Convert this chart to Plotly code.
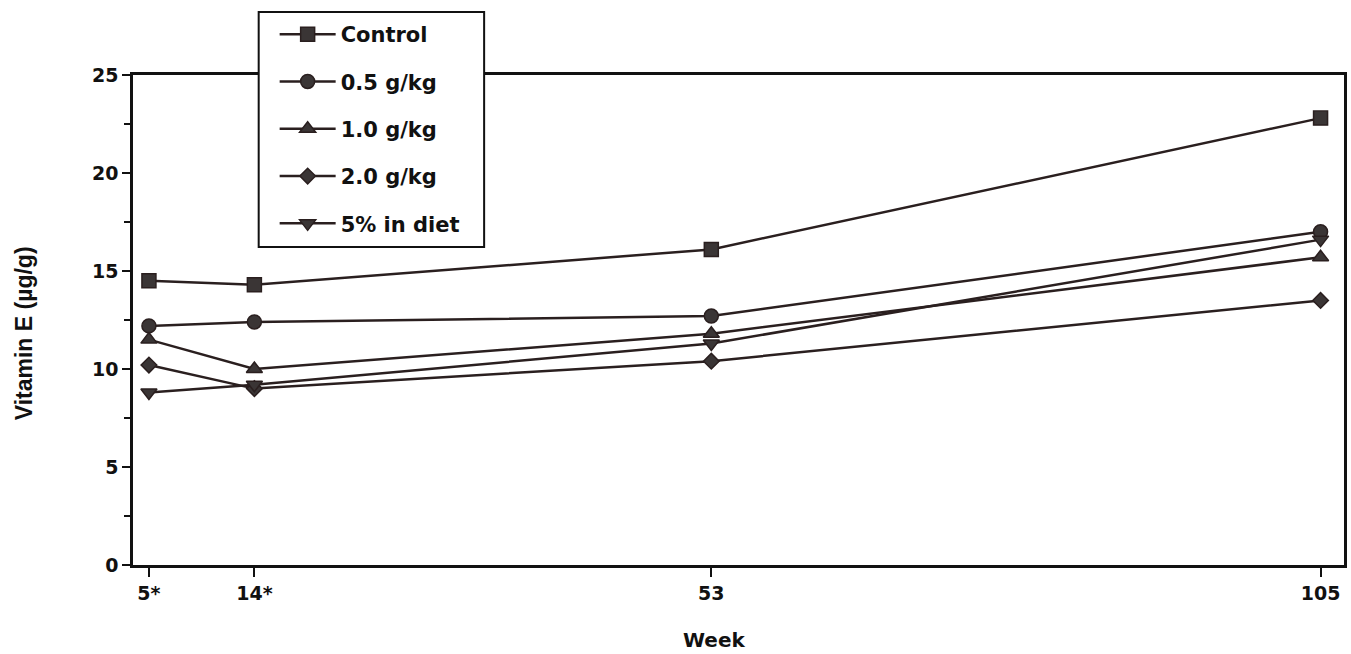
import plotly.graph_objects as go

# Sampling weeks and tick labels
weeks = [5, 14, 53, 105]
week_labels = ["5*", "14*", "53", "105"]

# Vitamin E concentration (µg/g) per group
control = [14.5, 14.3, 16.1, 22.8]
g05 = [12.2, 12.4, 12.7, 17.0]
g10 = [11.5, 10.0, 11.8, 15.7]
g20 = [10.2, 9.0, 10.4, 13.5]
diet5 = [8.8, 9.2, 11.3, 16.6]

series = [
    ("Control", control, "square", 14),
    ("0.5 g/kg", g05, "circle", 14),
    ("1.0 g/kg", g10, "triangle-up", 14),
    ("2.0 g/kg", g20, "diamond", 12),
    ("5% in diet", diet5, "triangle-down", 14),
]

LINE = "#2a1f1f"
MARK = "#3a3535"
INK = "#111"

fig = go.Figure()
for name, vals, sym, size in series:
    fig.add_trace(go.Scatter(
        x=weeks, y=vals, name=name, legendgroup=name,
        mode="lines+markers",
        line=dict(color=LINE, width=2.5),
        marker=dict(symbol=sym, size=size, color=MARK,
                    line=dict(color=LINE, width=1.5)),
    ))

tick_font = dict(family="DejaVu Sans", size=19, color=INK, weight="bold")

# plot area spans 1214 x 490 px; helpers convert pixel positions to paper units
PW, PH, L, T = 1214.0, 490.0, 133.0, 75.0
def px(x):
    return (x - L) / PW
def py(y):
    return (T + PH - y) / PH

fig.update_layout(
    width=1351, height=654,
    margin=dict(l=133, r=4, t=75, b=89),
    paper_bgcolor="white", plot_bgcolor="white",
    font=dict(family="DejaVu Sans", color=INK),
    showlegend=True,
    legend=dict(
        x=px(275), y=py(14), xanchor="left", yanchor="top",
        bgcolor="rgba(0,0,0,0)", borderwidth=0,
        font=dict(family="DejaVu Sans", size=21, color=INK, weight="bold"),
        traceorder="grouped", tracegroupgap=17,
        itemwidth=56,
    ),
    xaxis=dict(
        range=[3.64, 107.0], tickmode="array",
        tickvals=weeks, ticktext=week_labels,
        showgrid=False, zeroline=False,
        showline=True, linecolor=INK, linewidth=2.5, mirror=True,
        ticks="outside", ticklen=9, tickwidth=2, tickcolor=INK,
        tickfont=tick_font,
    ),
    yaxis=dict(
        range=[0, 25], tickmode="linear", tick0=0, dtick=5,
        showgrid=False, zeroline=False,
        showline=True, linecolor=INK, linewidth=2.5, mirror=True,
        ticks="outside", ticklen=8, tickwidth=2, tickcolor=INK,
        tickfont=tick_font,
        minor=dict(ticks="outside", dtick=2.5, ticklen=6,
                   tickwidth=2, tickcolor=INK, showgrid=False),
    ),
    shapes=[
        # legend frame, white-filled so it covers the top border
        dict(type="rect", xref="paper", yref="paper", layer="above",
             x0=px(259), x1=px(485), y0=py(247), y1=py(12),
             fillcolor="white", line=dict(color=INK, width=2)),
    ],
    annotations=[
        dict(text="<b>Vitamin E (µg/g)</b>", xref="paper", yref="paper",
             x=px(24), y=py(333), textangle=-90, showarrow=False,
             xanchor="center", yanchor="middle",
             font=dict(family="Liberation Sans", size=23, color=INK)),
        dict(text="<b>Week</b>", xref="paper", yref="paper",
             x=px(715), y=py(640), showarrow=False,
             xanchor="center", yanchor="middle",
             font=dict(family="DejaVu Sans", size=20, color=INK)),
    ],
)

fig.write_html("out.html")
